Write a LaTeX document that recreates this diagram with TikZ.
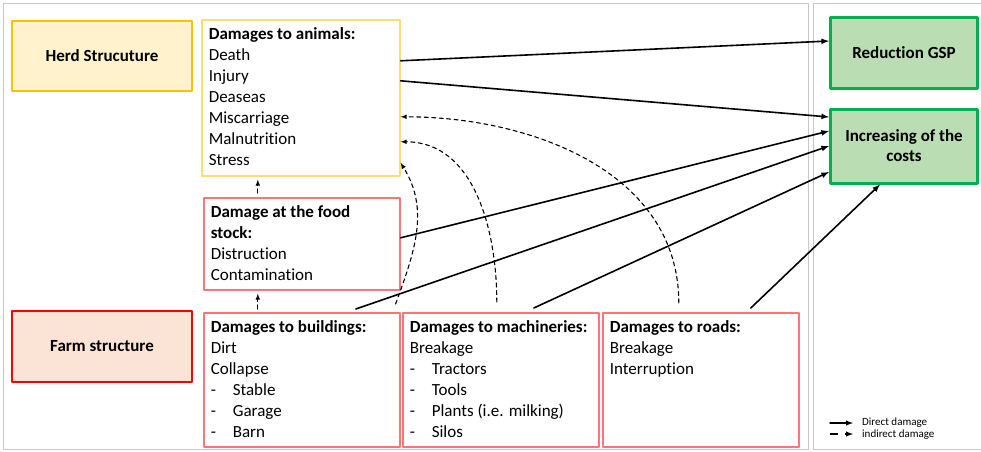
\documentclass[tikz,border=0pt]{standalone}
\usepackage{fontspec}
\setmainfont{Carlito}[Ligatures=NoCommon]
\usetikzlibrary{calc}

\definecolor{herdfill}{HTML}{FFF2CC}
\definecolor{herdline}{HTML}{FFC000}
\definecolor{farmfill}{HTML}{FBE3D6}
\definecolor{farmline}{HTML}{FF0000}
\definecolor{effill}{HTML}{BADDB3}
\definecolor{efline}{HTML}{00B050}
\definecolor{animline}{HTML}{FFDC70}
\definecolor{dmgline}{HTML}{FF7478}
\definecolor{framegray}{HTML}{C8C8C8}

\newcommand{\itm}{\makebox[22pt][l]{-}}

\begin{document}
\begin{tikzpicture}[x=1pt, y=-1pt, line cap=round, line join=round, >=latex,
    catbox/.style={minimum width=180pt, minimum height=70pt, line width=2.5pt, inner sep=0pt,
      align=center, font=\fontsize{17}{20}\selectfont\bfseries},
    effbox/.style={catbox, minimum width=147pt, fill=effill, draw=efline, line width=3pt},
    dmg/.style={line width=1.6pt, anchor=north west, inner xsep=7pt, inner ysep=7.5pt,
      font=\fontsize{17}{21}\selectfont},
    direct/.style={->, line width=1.6pt},
    indirect/.style={->, line width=1.1pt, dash pattern=on 4pt off 3.5pt},
    legend/.style={anchor=west, inner sep=0pt, font=\fontsize{11}{12}\selectfont}]
        \useasboundingbox (0,0) rectangle (981,451);

        % Kaders
        \draw[framegray, line width=1pt] (3,3) rectangle (808,449);
        \draw[framegray, line width=1pt] (981,3) -- (813,3) -- (813,449) -- (981,449);

        % Structuren links
        \node[catbox, fill=herdfill, draw=herdline] (herd) at (102,56) {Herd Strucuture};
        \node[catbox, fill=farmfill, draw=farmline, minimum height=71pt] (farm) at (102,346.5) {Farm structure};

        % Effecten rechts
        \node[effbox, minimum height=71pt] (gsp) at (904,52.5) {Reduction GSP};
        \node[effbox, minimum height=74pt] (costs) at (904,146) {Increasing of the\\costs};

        % Schadeblokken
        \node[dmg, draw=animline] (animals) at (201,19) {\parbox[c][141pt][t]{184pt}{%
            \textbf{Damages to animals:}\\Death\\Injury\\Deaseas\\Miscarriage\\Malnutrition\\Stress}};
        \node[dmg, draw=dmgline] (food) at (203,197) {\parbox[c][77pt][t]{182pt}{%
            \textbf{Damage at the food}\\\textbf{stock:}\\Distruction\\Contamination}};
        \node[dmg, draw=dmgline] (buildings) at (203,312) {\parbox[c][119pt][t]{182pt}{%
            \textbf{Damages to buildings:}\\Dirt\\Collapse\\\itm Stable\\\itm Garage\\\itm Barn}};
        \node[dmg, draw=dmgline] (machines) at (402,312) {\parbox[c][119pt][t]{182pt}{%
            \textbf{Damages to machineries:}\\Breakage\\\itm Tractors\\\itm Tools\\\itm Plants (i.e. milking)\\\itm Silos}};
        \node[dmg, draw=dmgline] (roads) at (602,312) {\parbox[c][119pt][t]{182pt}{%
            \textbf{Damages to roads:}\\Breakage\\Interruption}};

        % Directe schade
        \draw[direct] ([yshift=37pt]animals.east) -- ([yshift=11.5pt]gsp.west);
        \draw[direct] ([yshift=17pt]animals.east) -- ([yshift=29pt]costs.west);
        \draw[direct] ([yshift=6pt]food.east) -- ([yshift=15pt]costs.west);
        \draw[direct] ([shift={(54pt,3pt)}]buildings.north) -- (costs.west);
        \draw[direct] ([shift={(33pt,4pt)}]machines.north) -- ([yshift=-26pt]costs.west);
        \draw[direct] ([shift={(50pt,4pt)}]roads.north) -- ([xshift=-24pt]costs.south);

        % Indirecte schade
        \draw[indirect] ([shift={(-44pt,4pt)}]food.north) -- ([shift={(-43pt,-3pt)}]animals.south);
        \draw[indirect] ([shift={(-44pt,3pt)}]buildings.north) -- ([shift={(-44pt,-3pt)}]food.south);
        \draw[indirect] ([shift={(-5pt,8pt)}]buildings.north east) to[out=70, in=-58] ([yshift=-65pt]animals.east);
        \draw[indirect] ([shift={(-4pt,10pt)}]machines.north) to[out=90, in=0] ([yshift=-44pt]animals.east);
        \draw[indirect] ([shift={(-22pt,9pt)}]roads.north) to[out=90, in=0] ([yshift=-19pt]animals.east);

        % Legenda
        \coordinate (dirA) at (830,423);
        \coordinate (dirB) at (853,423);
        \coordinate (indA) at (830,434);
        \coordinate (indB) at (853,434);
        \draw[direct, line width=1.4pt] (dirA) -- (dirB);
        \draw[->, line width=1.4pt, line cap=butt, dash pattern=on 8pt off 7pt] (indA) -- (indB);
        \node[legend] (dirtxt) at (862,423) {Direct damage};
        \node[legend] (indtxt) at (862,434.5) {indirect damage};
      \end{tikzpicture}
\end{document}
